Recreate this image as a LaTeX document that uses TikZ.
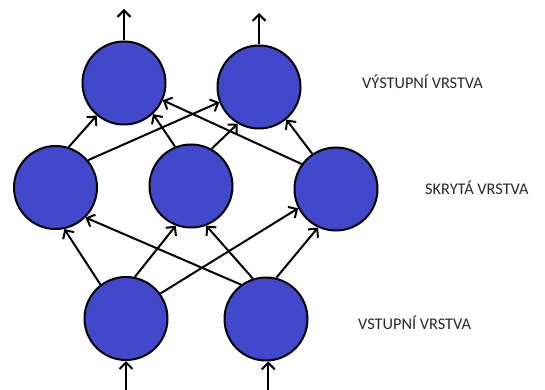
\documentclass[tikz,border=0pt]{standalone}
\usepackage{fontspec}
\setmainfont{Carlito}
\usetikzlibrary{arrows.meta}
\definecolor{neuron}{RGB}{66,72,204}
\definecolor{labelgray}{RGB}{40,40,40}
\begin{document}
\begin{tikzpicture}[x=1pt,y=-1pt,
  neuronnode/.style={circle,draw=black,line width=2pt,fill=neuron,minimum size=83pt,inner sep=0pt},
  arr/.style={line width=2pt,-{Straight Barb[length=6.5pt,width=13pt,line width=2pt]}},
  layerlabel/.style={anchor=west,font=\fontsize{16.3}{18}\selectfont,text=labelgray,inner sep=0pt}]
\useasboundingbox (0,0) rectangle (545,390);
% nodes
\node[neuronnode] (O1) at (124,83) {};
\node[neuronnode] (O2) at (259,87) {};
\node[neuronnode] (H1) at (55.5,187.5) {};
\node[neuronnode] (H2) at (191,186) {};
\node[neuronnode] (H3) at (336,189) {};
\node[neuronnode] (I1) at (126,318.5) {};
\node[neuronnode] (I2) at (266,319) {};
% free ends
\coordinate (out1) at (124,9);
\coordinate (out2) at (259,13);
\coordinate (in1) at (126,392);
\coordinate (in2) at (268,392);
% outputs and inputs
\draw[arr] (O1.north) -- (out1);
\draw[arr] (O2.north) -- (out2);
\draw[arr] (in1) -- (I1.south);
\draw[arr] (I2.273 |- in2) -- (I2.273);
% hidden -> output
\draw[arr] (H1.72) -- (O1.230);
\draw[arr] (H1.40) -- (O2.201);
\draw[arr] (H2.112) -- (O1.313);
\draw[arr] (H2.61) -- (O2.240);
\draw[arr] (H3.144) -- (O1.336);
\draw[arr] (H3.124) -- (O2.310);
% input -> hidden
\draw[arr] (I1.127) -- (H1.282);
\draw[arr] (I1.78) -- (H2.249);
\draw[arr] (I1.36) -- (H3.207);
\draw[arr] (I2.126) -- (H1.315);
\draw[arr] (I2.108) -- (H2.291);
\draw[arr] (I2.76) -- (H3.245);
% labels
\node[layerlabel] (Lout) at (362,82) {VÝSTUPNÍ VRSTVA};
\node[layerlabel] (Lhid) at (425,188) {SKRYTÁ VRSTVA};
\node[layerlabel] (Lin) at (358,323) {VSTUPNÍ VRSTVA};
\end{tikzpicture}
\end{document}
